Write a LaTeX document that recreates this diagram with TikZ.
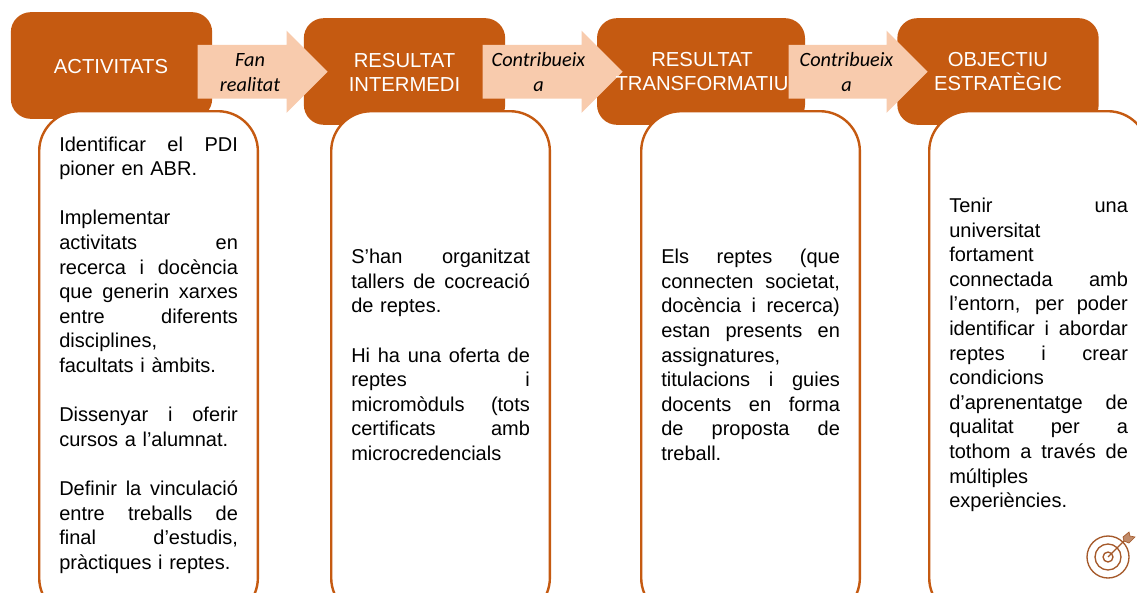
\documentclass[tikz,border=0pt]{standalone}
\usepackage{fontspec}
\setmainfont{Liberation Sans}
\newfontfamily\labelfont{Carlito}
\usetikzlibrary{shapes.arrows}
\definecolor{rustfill}{HTML}{C55A11}
\definecolor{peachfill}{HTML}{F8CBAD}
\definecolor{iconbrown}{HTML}{A5592A}
\tikzset{
  headbox/.style={fill=rustfill,rounded corners=15pt,minimum width=151pt,minimum height=80pt,inner sep=0pt},
  headtext/.style={white,align=center,font=\fontsize{15.2}{18}\selectfont,inner sep=0pt},
  bodybox/.style={draw=rustfill,line width=1.8pt,fill=white,rounded corners=30pt,minimum width=164pt,minimum height=380pt,anchor=north west},
  bodytext/.style={align=left,text width=134pt,inner sep=0pt,anchor=west,font=\fontsize{15}{18.45}\selectfont},
  linkarrow/.style={single arrow,fill=peachfill,inner sep=0pt,anchor=tip,minimum width=61.3pt,minimum height=97.5pt,single arrow head extend=10.6pt,single arrow tip angle=90},
  linktext/.style={align=center,inner sep=0pt,font=\labelfont\itshape\fontsize{15.2}{18.7}\selectfont},
}
\newcommand{\jl}[1]{\makebox[\hsize][s]{\spaceskip=0pt\xspaceskip=0pt #1}\\}
\newcommand{\gapline}{\mbox{}\\}
\newcommand{\shaft}{\rule{0pt}{40pt}}
\begin{document}
\begin{tikzpicture}[x=0.75pt,y=-0.75pt]
  \clip (0,0) rectangle (1137,592);
  \fill [white] (0,0) rectangle (1137,592);
  % top boxes
  \node [headbox] (activitats) at (111.5,65.5) {};
  \node [headbox] (intermedi) at (404.5,71.5) {};
  \node [headbox,minimum width=156pt] (transform) at (701,71.5) {};
  \node [headbox] (objectiu) at (998,71.5) {};
  % lower boxes
  \node [bodybox] (bodya) at (38,110) {};
  \node [bodybox] (bodyb) at (330,110) {};
  \node [bodybox] (bodyc) at (640,110) {};
  \node [bodybox] (bodyd) at (928,110) {};
  % arrows
  \node [linkarrow] (fan) at (328,71.7) {\shaft};
  \node [linkarrow,minimum height=105pt] (contria) at (623,71.7) {\shaft};
  \node [linkarrow,minimum height=104.3pt] (contrib) at (928,71.7) {\shaft};
  % titles
  \node [headtext] (ta) at (111,67) {ACTIVITATS};
  \node [headtext] (tb) at (404.5,72) {RESULTAT\\INTERMEDI};
  \node [headtext] (tc) at (702,72) {RESULTAT\\TRANSFORMATIU};
  \node [headtext] (td) at (998,72) {OBJECTIU\\ESTRATÈGIC};
  \node [linktext] (la) at (250,72.5) {Fan\\realitat};
  \node [linktext] (lb) at (538.5,72.5) {Contribueix\\a};
  \node [linktext] (lc) at (846.5,72.5) {Contribueix\\a};
  % texts
  \node [bodytext] (xa) at (59,355) {\jl{Identificar el PDI}pioner en ABR.\\\gapline Implementar\\\jl{activitats en}\jl{recerca i docència}\jl{que generin xarxes}\jl{entre diferents}disciplines,\\facultats i àmbits.\\\gapline\jl{Dissenyar i oferir}cursos a l’alumnat.\\\gapline\jl{Definir la vinculació}\jl{entre treballs de}\jl{final d’estudis,}pràctiques i reptes.};
  \node [bodytext] (xb) at (351,355) {\jl{S’han organitzat}\jl{tallers de cocreació}de reptes.\\\gapline\jl{Hi ha una oferta de}\jl{reptes i}\jl{micromòduls (tots}\jl{certificats amb}microcredencials};
  \node [bodytext] (xc) at (661,355) {\jl{Els reptes (que}\jl{connecten societat,}\jl{docència i recerca)}\jl{estan presents en}assignatures,\\\jl{titulacions i guies}\jl{docents en forma}\jl{de proposta de}treball.};
  \node [bodytext] (xd) at (949,355) {\jl{Tenir una}universitat\\fortament\\\jl{connectada amb}\jl{l’entorn, per poder}\jl{identificar i abordar}\jl{reptes i crear}condicions\\\jl{d’aprenentatge de}\jl{qualitat per a}\jl{tothom a través de}múltiples\\experiències.};
  % target icon
  \draw [iconbrown,line width=1pt] (1108,557) circle (21);
  \draw [iconbrown,line width=1pt] (1108,557) circle (13);
  \draw [iconbrown,line width=1pt] (1108,557) circle (5);
  \draw [iconbrown,line width=1pt] (1108,557) -- (1125,540);
  \filldraw [iconbrown,line width=0.5pt,fill=iconbrown!70] (1124,541) -- (1123,537) -- (1129,532) -- (1130,536) -- (1135,537) -- (1129,543) -- cycle;
\end{tikzpicture}
\end{document}
